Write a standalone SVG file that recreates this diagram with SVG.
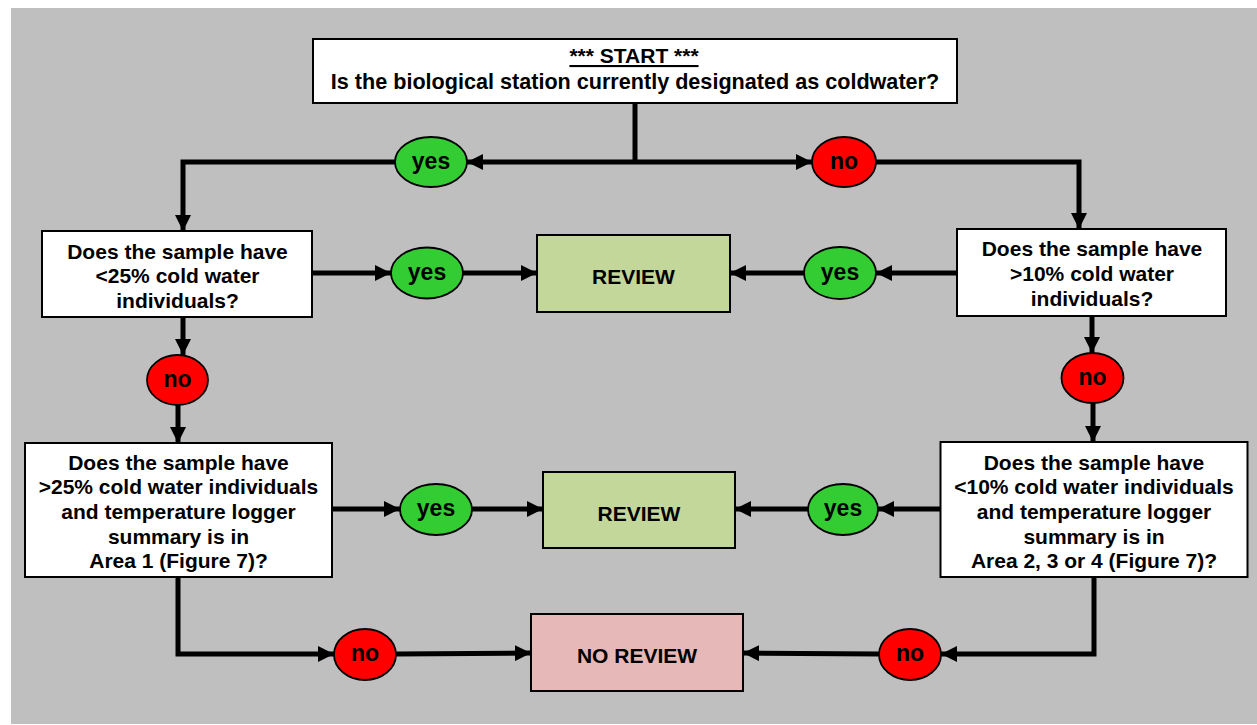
<svg xmlns="http://www.w3.org/2000/svg" width="1257" height="725" viewBox="0 0 1257 725">
  <defs>
    <marker id="arrow" markerUnits="userSpaceOnUse" markerWidth="16" markerHeight="16" refX="16" refY="8" orient="auto">
      <path d="M0,0 L16,8 L0,16 z" fill="#000"/>
    </marker>
    <style>
      text { font-family: "Liberation Sans", Arial, sans-serif; font-weight: bold; fill: #000; text-anchor: middle; }
      .box { fill: #fff; stroke: #000; stroke-width: 2; }
      .review { fill: #c4d79b; stroke: #000; stroke-width: 2; }
      .noreview { fill: #e6b8b7; stroke: #000; stroke-width: 2; }
      .yes { fill: #33cc33; stroke: #000; stroke-width: 1.8; }
      .no { fill: #ff0000; stroke: #000; stroke-width: 1.8; }
      .t { font-size: 21px; }
      .big { font-size: 21.6px; }
      .lbl { font-size: 23px; }
      .conn path { fill: none; stroke: #000; stroke-width: 5; }
      .conn path.a { marker-end: url(#arrow); }
    </style>
  </defs>

  <rect x="0" y="0" width="1257" height="725" fill="#fff"/>
  <rect x="11" y="8" width="1246" height="716" fill="#bfbfbf"/>

  <!-- connectors -->
  <g id="connectors" class="conn">
    <path d="M635,103 V162"/>
    <path class="a" d="M635,162 H467"/>
    <path class="a" d="M395,162 H183 V231"/>
    <path class="a" d="M635,162 H812"/>
    <path class="a" d="M876,162 H1079 V229"/>
    <path class="a" d="M312,273 H391"/>
    <path class="a" d="M463,273 H537"/>
    <path class="a" d="M957,273 H876"/>
    <path class="a" d="M804,273 H730"/>
    <path class="a" d="M183,317 V355"/>
    <path class="a" d="M178,405 V443"/>
    <path class="a" d="M1092,316 V353"/>
    <path class="a" d="M1093,403 V442"/>
    <path class="a" d="M332,509 H400"/>
    <path class="a" d="M472,509 H543"/>
    <path class="a" d="M940,509 H878"/>
    <path class="a" d="M808,509 H735"/>
    <path class="a" d="M178,577 V654 H334"/>
    <path class="a" d="M396,654 L531,653"/>
    <path class="a" d="M1094,577 V654 H941"/>
    <path class="a" d="M879,654 L743,653"/>
  </g>

  <!-- start question -->
  <g id="start">
    <rect class="box" x="313" y="39" width="644" height="64"/>
    <text class="t" x="634" y="63" text-decoration="underline">*** START ***</text>
    <text class="big" x="635" y="88.5">Is the biological station currently designated as coldwater?</text>
  </g>

  <!-- coldwater branch, first question -->
  <g id="q-cold-25">
    <rect class="box" x="42" y="231" width="270" height="86"/>
    <text class="t" x="177.5" y="258.5">Does the sample have</text>
    <text class="t" x="177.5" y="283">&lt;25% cold water</text>
    <text class="t" x="177.5" y="307.5">individuals?</text>
  </g>

  <!-- warmwater branch, first question -->
  <g id="q-warm-10">
    <rect class="box" x="957" y="229" width="269" height="87"/>
    <text class="t" x="1092" y="256">Does the sample have</text>
    <text class="t" x="1092" y="281">&gt;10% cold water</text>
    <text class="t" x="1092" y="306">individuals?</text>
  </g>

  <!-- coldwater branch, second question -->
  <g id="q-cold-area">
    <rect class="box" x="25" y="443" width="307" height="134"/>
    <text class="t" x="178.5" y="469.5">Does the sample have</text>
    <text class="t" x="178.5" y="494.3">&gt;25% cold water individuals</text>
    <text class="t" x="178.5" y="519">and temperature logger</text>
    <text class="t" x="178.5" y="543.5">summary is in</text>
    <text class="t" x="178.5" y="568.3">Area 1 (Figure 7)?</text>
  </g>

  <!-- warmwater branch, second question -->
  <g id="q-warm-area">
    <rect class="box" x="940.5" y="442" width="307" height="135"/>
    <text class="t" x="1094" y="469.5">Does the sample have</text>
    <text class="t" x="1094" y="494.3">&lt;10% cold water individuals</text>
    <text class="t" x="1094" y="519">and temperature logger</text>
    <text class="t" x="1094" y="543.5">summary is in</text>
    <text class="t" x="1094" y="568.3">Area 2, 3 or 4 (Figure 7)?</text>
  </g>

  <!-- outcomes -->
  <g id="review-1">
    <rect class="review" x="537" y="235" width="193" height="77"/>
    <text class="t" x="633.5" y="284.3">REVIEW</text>
  </g>
  <g id="review-2">
    <rect class="review" x="543" y="472" width="192" height="76"/>
    <text class="t" x="639" y="520.5">REVIEW</text>
  </g>
  <g id="no-review">
    <rect class="noreview" x="531" y="614" width="212" height="77"/>
    <text class="t" x="637" y="663.3">NO REVIEW</text>
  </g>

  <!-- answer labels -->
  <g id="yes-start">
    <ellipse class="yes" cx="431" cy="162" rx="36" ry="25"/>
    <text class="lbl" x="431" y="168.5">yes</text>
  </g>
  <g id="no-start">
    <ellipse class="no" cx="844" cy="162" rx="32" ry="25"/>
    <text class="lbl" x="844" y="168.5">no</text>
  </g>
  <g id="yes-cold-25">
    <ellipse class="yes" cx="427" cy="273" rx="36" ry="25.5"/>
    <text class="lbl" x="427" y="279.5">yes</text>
  </g>
  <g id="yes-warm-10">
    <ellipse class="yes" cx="840" cy="273" rx="36" ry="26"/>
    <text class="lbl" x="840" y="279.5">yes</text>
  </g>
  <g id="no-cold-25">
    <ellipse class="no" cx="177.5" cy="380" rx="30.5" ry="25"/>
    <text class="lbl" x="177.5" y="386.5">no</text>
  </g>
  <g id="no-warm-10">
    <ellipse class="no" cx="1092.5" cy="378" rx="31" ry="25"/>
    <text class="lbl" x="1092.5" y="384.5">no</text>
  </g>
  <g id="yes-cold-area">
    <ellipse class="yes" cx="436" cy="509.5" rx="36" ry="25.5"/>
    <text class="lbl" x="436" y="516">yes</text>
  </g>
  <g id="yes-warm-area">
    <ellipse class="yes" cx="843" cy="509.5" rx="35" ry="25.5"/>
    <text class="lbl" x="843" y="516">yes</text>
  </g>
  <g id="no-cold-area">
    <ellipse class="no" cx="365" cy="654.5" rx="31" ry="25.5"/>
    <text class="lbl" x="365" y="661">no</text>
  </g>
  <g id="no-warm-area">
    <ellipse class="no" cx="910" cy="654.5" rx="31" ry="25.5"/>
    <text class="lbl" x="910" y="661">no</text>
  </g>
</svg>
